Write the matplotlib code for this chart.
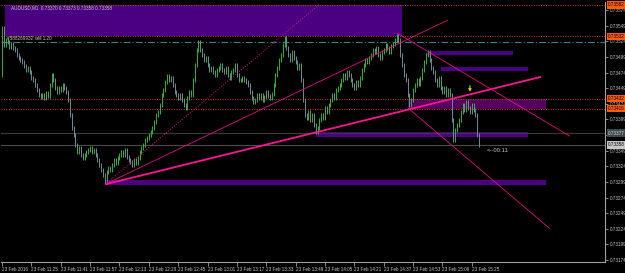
import matplotlib
matplotlib.use("Agg")
import matplotlib.pyplot as plt
import matplotlib.transforms as mtransforms

plt.rcParams["font.family"] = ["Liberation Sans", "DejaVu Sans"]

# ── chart texts ─────────────────────────────────────────────────────────────
TITLE = "AUDUSD,M1  0.73370 0.73373 0.73358 0.73358"
ORDER_TEXT = "#588269932 sell 1.20"
TIMER_TEXT = "<--00:11"

# ── M1 bars (close of each minute; open = previous close) ───────────────────
OPEN0 = 0.73470
closes = [
    0.73545, 0.73518, 0.73526,
    0.73523, 0.73515, 0.73520, 0.73513, 0.73510,
    0.73502, 0.73497, 0.73494,
    0.73491, 0.73484, 0.73478, 0.73481,
    0.73475, 0.73465, 0.73462,
    0.73454, 0.73446, 0.73438, 0.73435,
    0.73438, 0.73433, 0.73441, 0.73436,
    0.73454, 0.73470, 0.73462,
    0.73449, 0.73443, 0.73449, 0.73446, 0.73454, 0.73449, 0.73443,
    0.73430, 0.73406, 0.73385,
    0.73374, 0.73358, 0.73347, 0.73353, 0.73342,
    0.73337, 0.73342, 0.73347, 0.73350, 0.73353, 0.73347, 0.73350, 0.73342,
    0.73334, 0.73326, 0.73318, 0.73310,
    0.73299,
    0.73315, 0.73321, 0.73318, 0.73326, 0.73334, 0.73329, 0.73337, 0.73342,
    0.73347, 0.73342, 0.73350, 0.73339, 0.73334,
    0.73331, 0.73326, 0.73334, 0.73329, 0.73337, 0.73347,
    0.73353, 0.73358, 0.73366, 0.73369,
    0.73374, 0.73379, 0.73385,
    0.73395, 0.73406, 0.73411, 0.73422,
    0.73438, 0.73446, 0.73459,
    0.73468, 0.73462, 0.73465,
    0.73454, 0.73443, 0.73438,
    0.73433, 0.73438, 0.73430, 0.73422, 0.73417,
    0.73433, 0.73443, 0.73438,
    0.73462, 0.73486, 0.73510, 0.73523,
    0.73510, 0.73502, 0.73494, 0.73497,
    0.73486, 0.73478, 0.73481, 0.73475, 0.73470, 0.73478, 0.73481,
    0.73486, 0.73478, 0.73475, 0.73481, 0.73470, 0.73465, 0.73475, 0.73478,
    0.73486, 0.73470, 0.73462,
    0.73462, 0.73465, 0.73462, 0.73459, 0.73454,
    0.73443, 0.73433, 0.73427, 0.73430, 0.73438, 0.73433,
    0.73438, 0.73430, 0.73435, 0.73443, 0.73436, 0.73433, 0.73440,
    0.73454, 0.73470, 0.73481, 0.73494, 0.73502,
    0.73518, 0.73529, 0.73513,
    0.73502, 0.73494, 0.73507,
    0.73497, 0.73491, 0.73481, 0.73486,
    0.73462, 0.73430, 0.73406,
    0.73401, 0.73411, 0.73398, 0.73406,
    0.73390, 0.73379, 0.73385,
    0.73398, 0.73406, 0.73401, 0.73417, 0.73411, 0.73422,
    0.73430, 0.73438, 0.73433, 0.73446, 0.73449, 0.73454,
    0.73462, 0.73470, 0.73465, 0.73475, 0.73470,
    0.73462, 0.73454, 0.73449, 0.73459, 0.73454, 0.73465,
    0.73478, 0.73486, 0.73494, 0.73491, 0.73497,
    0.73502, 0.73510, 0.73507, 0.73513, 0.73502, 0.73497, 0.73507,
    0.73510, 0.73518, 0.73513, 0.73507, 0.73516, 0.73520, 0.73526, 0.73532,
    0.73526,
    0.73502, 0.73486, 0.73470, 0.73462,
    0.73438, 0.73422, 0.73430,
    0.73446, 0.73454, 0.73462, 0.73456, 0.73465,
    0.73478, 0.73491, 0.73502, 0.73507,
    0.73494, 0.73481, 0.73475, 0.73462, 0.73454,
    0.73465, 0.73449, 0.73443,
    0.73449, 0.73438, 0.73446, 0.73438,
    0.73398, 0.73366,
    0.73382, 0.73390, 0.73398,
    0.73411, 0.73422, 0.73414, 0.73427, 0.73417, 0.73411,
    0.73422, 0.73414, 0.73406,
    0.73374, 0.73358,
]
WICK = 0.00003

# ── axes labels ─────────────────────────────────────────────────────────────
time_labels = ["23 Feb 2016", "23 Feb 11:25", "23 Feb 11:41", "23 Feb 11:57",
               "23 Feb 12:13", "23 Feb 12:29", "23 Feb 12:45", "23 Feb 13:01",
               "23 Feb 13:17", "23 Feb 13:33", "23 Feb 13:49", "23 Feb 14:05",
               "23 Feb 14:21", "23 Feb 14:37", "23 Feb 14:53", "23 Feb 15:09",
               "23 Feb 15:25"]
time_label_bars = [0, 16, 32, 48, 64, 80, 96, 112, 128, 144, 160, 176,
                   192, 208, 224, 240, 256]
price_ticks = [0.73174, 0.73199, 0.73224, 0.73249, 0.73274, 0.73299, 0.73324,
               0.73349, 0.73374, 0.73399, 0.73424, 0.73449, 0.73474, 0.73499,
               0.73524, 0.73549, 0.73574]

# ── horizontal levels ───────────────────────────────────────────────────────
orange_levels = [0.73582, 0.73532, 0.73432, 0.73416]
ORDER_LEVEL = 0.73523
ASK = 0.73377
BID = 0.73358

# ── rectangles (bar from, bar to, low price, high price) ────────────────────
zone_x0 = [1.5, 231.6, 239.3, 221.2, 171.1, 56.1]
zone_x1 = [218.0, 278.5, 286.6, 296.5, 286.6, 296.5]
zone_lo = [0.73532, 0.73502, 0.73476, 0.73416, 0.73371, 0.73294]
zone_hi = [0.73582, 0.73508, 0.73483, 0.73432, 0.73379, 0.73302]
zone_col = ["#4b0082", "#4b0082", "#4b0082", "#55005f", "#4b0082", "#4b0082"]

# ── trend lines (bar, price) -> (bar, price) ────────────────────────────────
tl_x0 = [56.1, 56.1, 56.1, 215.3, 221.3]
tl_p0 = [0.73295, 0.73295, 0.73295, 0.73537, 0.73417]
tl_x1 = [293.7, 243.0, 173.3, 309.5, 298.6]
tl_p1 = [0.73467, 0.73558, 0.73584, 0.73372, 0.73224]
tl_lw = [1.3, 0.6, 0.7, 0.6, 0.6]
tl_ls = ["-", "-", ":", "-", "-"]
tl_col = ["#ff1493", "#e0147f", "#e0147f", "#e0147f", "#e0147f"]

ARROW_BAR, ARROW_PRICE = 255.0, 0.73448
TIMER_BAR, TIMER_PRICE = 264.0, 0.73350

GRID_COL = "#a0a0a0"
FS = 3.3

fig = plt.figure(figsize=(6.25, 2.73), dpi=100, facecolor="black")
ax = fig.add_axes([1 / 625, 11 / 273, 604 / 625, 260 / 273])
ax.set_facecolor("black")
ax.set_xlim(-0.55, 328.6)
ax.set_ylim(0.731708, 0.735868)

# rectangles behind bars
for x0, x1, lo, hi, c in zip(zone_x0, zone_x1, zone_lo, zone_hi, zone_col):
    ax.fill_between([x0, x1], lo, hi, color=c, lw=0, zorder=1)

# levels
for lv in orange_levels:
    ax.axhline(lv, color="#d2401a", lw=0.7, ls=(0, (1, 1.5)), zorder=1.5)
ax.axhline(ORDER_LEVEL, color="#3f8080", lw=0.8, ls=(0, (6, 2, 1, 2)), zorder=1.5)
ax.axhline(ASK, color="#3a3a3a", lw=0.8, zorder=1.5)
ax.axhline(BID, color="#4a4a4a", lw=0.8, zorder=1.5)

# bars
opens = [OPEN0] + closes[:-1]
idx = list(range(len(closes)))
up_x, up_lo, up_hi, dn_x, dn_lo, dn_hi = [], [], [], [], [], []
for i, o, c in zip(idx, opens, closes):
    lo, hi = min(o, c) - WICK, max(o, c) + WICK
    if c >= o:
        up_x.append(i); up_lo.append(lo); up_hi.append(hi)
    else:
        dn_x.append(i); dn_lo.append(lo); dn_hi.append(hi)
ax.vlines(up_x, up_lo, up_hi, color="#2fb52f", lw=0.7, zorder=3)
ax.vlines(dn_x, dn_lo, dn_hi, color="#6b8f96", lw=0.7, zorder=3)

# trend lines
for x0, p0, x1, p1, lw, ls, c in zip(tl_x0, tl_p0, tl_x1, tl_p1, tl_lw, tl_ls, tl_col):
    ax.plot([x0, x1], [p0, p1], color=c, lw=lw, ls=ls, zorder=4,
            solid_capstyle="butt")

# yellow down arrow
ax.annotate("", xy=(ARROW_BAR, ARROW_PRICE - 0.00005),
            xytext=(ARROW_BAR, ARROW_PRICE + 0.00005),
            arrowprops=dict(arrowstyle="-|>", color="#d8c800", lw=0.8,
                            mutation_scale=4, shrinkA=0, shrinkB=0), zorder=5)
ax.text(TIMER_BAR, TIMER_PRICE, TIMER_TEXT, color="#c8c8c8", fontsize=4.2,
        ha="left", va="center", zorder=5)

# texts at top left
ax.text(0.016, 0.988, TITLE, transform=ax.transAxes, color="#c8c8c8",
        fontsize=FS, ha="left", va="top", zorder=6)
ax.text(2.5, ORDER_LEVEL + 0.00002, ORDER_TEXT, color="#c8c8c8", fontsize=FS,
        ha="left", va="bottom", zorder=6)

# axes styling
for s in ["top", "left"]:
    ax.spines[s].set_visible(False)
for s in ["right", "bottom"]:
    ax.spines[s].set_color(GRID_COL)
    ax.spines[s].set_linewidth(0.8)

ax.yaxis.tick_right()
ax.set_yticks(price_ticks)
# the ask-price box hides the 0.73374 label on the scale
ax.set_yticklabels(["" if abs(p - ASK) < 0.00008 else f"{p:.5f}" for p in price_ticks])
ax.tick_params(axis="y", colors=GRID_COL, labelcolor="#c8c8c8", labelsize=FS,
               length=2, width=0.6, pad=1.2)
ax.set_xticks(time_label_bars)
ax.set_xticklabels(time_labels)
ax.tick_params(axis="x", colors=GRID_COL, labelcolor="#c8c8c8", labelsize=FS,
               length=3, width=0.6, pad=0.8)
for lbl in ax.get_xticklabels():
    lbl.set_ha("left")

# price boxes on the right scale
blend = mtransforms.blended_transform_factory(ax.transAxes, ax.transData)
box_levels = orange_levels + [ASK, BID]
box_fc = ["#ff5a10"] * 4 + ["#3c4a4e", "#c8c8c8"]
box_tc = ["black"] * 4 + ["#d8d8d8", "black"]
for lv, fc, tc in zip(box_levels, box_fc, box_tc):
    ax.text(1.005, lv, f"{lv:.5f}", transform=blend, fontsize=FS, color=tc,
            ha="left", va="center", clip_on=False, zorder=10,
            bbox=dict(boxstyle="square,pad=0.25", fc=fc, ec="none"))

fig.savefig("out.png", dpi=100, facecolor="black")
